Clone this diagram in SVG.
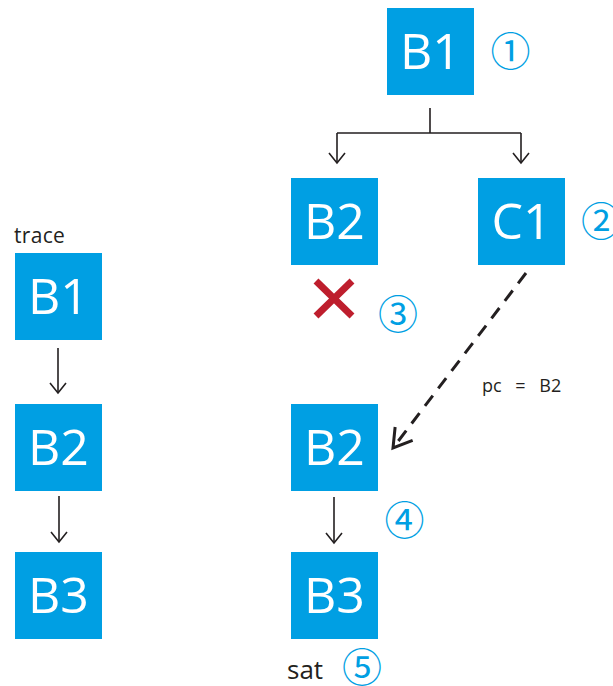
<svg xmlns="http://www.w3.org/2000/svg" width="613" height="686" viewBox="0 0 613 686">
<style>
.box{fill:#009fe3}
.bt{fill:#fff;font-family:"Open Sans","Noto Sans",sans-serif;font-size:50px;text-anchor:middle}
.num{fill:#009fe3;font-family:"Noto Sans CJK JP",sans-serif;font-size:40px;text-anchor:middle}
.lbl{fill:#231f20;font-family:"Open Sans","Noto Sans",sans-serif}
.ln{stroke:#231f20;stroke-width:1.6;fill:none}
</style>
<defs>
<marker id="ah" markerUnits="userSpaceOnUse" markerWidth="24" markerHeight="24" viewBox="-12 -12 24 24" refX="0" refY="0" orient="auto">
<path d="M-10,-8 L0,0 L-10,8" fill="none" stroke="#231f20" stroke-width="1.6"/>
</marker>
<marker id="ahd" markerUnits="userSpaceOnUse" markerWidth="40" markerHeight="40" viewBox="-20 -20 40 40" refX="0" refY="0" orient="auto">
<path d="M-18,-11 L0,0 L-18,11" fill="none" stroke="#231f20" stroke-width="3"/>
</marker>
</defs>
<g id="connectors">
<path class="ln" d="M430,108 V133 M337,133 H521"/>
<path class="ln" d="M337,133 V163" marker-end="url(#ah)"/>
<path class="ln" d="M521,133 V163" marker-end="url(#ah)"/>
<path class="ln" d="M58,348 V393" marker-end="url(#ah)"/>
<path class="ln" d="M59,496 V542" marker-end="url(#ah)"/>
<path class="ln" d="M334,497 V543" marker-end="url(#ah)"/>
<path d="M526,273 L393,448" fill="none" stroke="#231f20" stroke-width="3" stroke-dasharray="13,9" marker-end="url(#ahd)"/>
</g>
<g id="tB1"><rect class="box" x="387" y="8" width="87" height="87"/><text class="bt" x="430.5" y="69">B1</text></g>
<g id="tB2"><rect class="box" x="291" y="178" width="87" height="87"/><text class="bt" x="334.5" y="239">B2</text></g>
<g id="tC1"><rect class="box" x="478" y="178" width="87" height="87"/><text class="bt" x="521.5" y="239">C1</text></g>
<g id="rB2"><rect class="box" x="291" y="404" width="87" height="87"/><text class="bt" x="334.5" y="465">B2</text></g>
<g id="rB3"><rect class="box" x="291" y="552" width="87" height="87"/><text class="bt" x="334.5" y="613">B3</text></g>
<g id="lB1"><rect class="box" x="15" y="253" width="87" height="87"/><text class="bt" x="58.5" y="314">B1</text></g>
<g id="lB2"><rect class="box" x="15" y="404" width="87" height="87"/><text class="bt" x="58.5" y="465">B2</text></g>
<g id="lB3"><rect class="box" x="15" y="552" width="87" height="87"/><text class="bt" x="58.5" y="613">B3</text></g>
<g id="cross"><path d="M316,281 L352,316 M352,281 L316,316" stroke="#be1e2d" stroke-width="7" fill="none"/></g>
<g id="labels">
<text class="lbl" x="14" y="243" font-size="21" letter-spacing="0.3">trace</text>
<text class="lbl" x="482" y="392" font-size="18" word-spacing="9">pc = B2</text>
<text class="lbl" x="287" y="679" font-size="26">sat</text>
<text class="num" x="510.5" y="66">①</text>
<text class="num" x="601" y="236">②</text>
<text class="num" x="398" y="329">③</text>
<text class="num" x="404.5" y="535">④</text>
<text class="num" x="362" y="682">⑤</text>
</g>
</svg>
